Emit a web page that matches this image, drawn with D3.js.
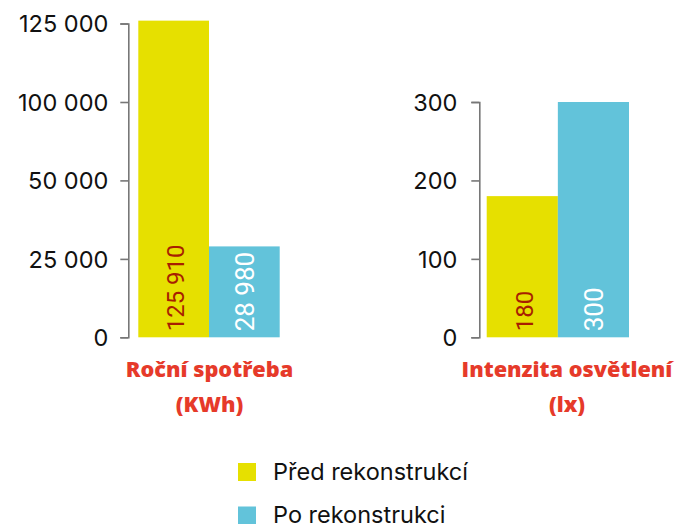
<!DOCTYPE html>
<html>
<head>
<meta charset="utf-8">
<script src="https://cdn.jsdelivr.net/npm/d3@7"></script>
<style>
  body { margin: 0; background: #fff; }
  svg { display: block; }
</style>
</head>
<body>
<svg id="chart"></svg>
<script>
// data
const series = ["Před rekonstrukcí", "Po rekonstrukci"];
const colors = ["#e6e000", "#62c3da"];
const textColors = ["#a81e00", "#ffffff"];

const energyTitle = ["Roční spotřeba", "(KWh)"];
const energyValues = [125910, 28980];
const energyTicks = [0, 25000, 50000, 100000, 125000];

const lightTitle = ["Intenzita osvětlení", "(lx)"];
const lightValues = [180, 300];
const lightTicks = [0, 100, 200, 300];

const width = 676, height = 524;
const svg = d3.select("#chart").attr("width", width).attr("height", height);

const fmt = v => d3.format(",")(v).replace(/,/g, " ");

function drawPanel(opt) {
  const g = svg.append("g");

  const x = d3.scaleBand().domain(series).range(opt.xRange).padding(0);
  const y = opt.y;

  // axis
  const axis = d3.axisLeft(y)
    .tickValues(opt.ticks)
    .tickFormat(fmt)
    .tickSizeOuter(0)
    .tickSize(8)
    .tickPadding(opt.pad);

  const ax = g.append("g")
    .attr("transform", `translate(${opt.axisX},0)`)
    .call(axis);
  ax.select(".domain").attr("stroke", "#777").attr("stroke-width", 1.6);
  ax.selectAll(".tick line").attr("stroke", "#777").attr("stroke-width", 1.6);
  ax.selectAll(".tick text")
    .attr("fill", "#111")
    .style("font-family", "Inter, 'Noto Sans', sans-serif")
    .style("font-size", "23.5px")
    .attr("dy", "0.36em");

  // bars
  g.selectAll("rect.bar")
    .data(opt.values)
    .join("rect")
    .attr("class", "bar")
    .attr("x", (d, i) => x(series[i]))
    .attr("width", x.bandwidth())
    .attr("y", d => y(d))
    .attr("height", d => y(0) - y(d))
    .attr("fill", (d, i) => colors[i]);

  // value labels (rotated)
  g.selectAll("text.val")
    .data(opt.values)
    .join("text")
    .attr("class", "val")
    .attr("transform", (d, i) => `translate(${x(series[i]) + x.bandwidth() / 2 + (i == 0 ? 10.5 : 10)},${y(0) - 6}) rotate(-90)`)
    .attr("fill", (d, i) => textColors[i])
    .style("font-family", "Roboto, sans-serif")
    .style("font-size", (d, i) => i == 0 ? "24px" : "26px")
    .text(d => fmt(d));

  // category title
  g.selectAll("text.cat")
    .data(opt.title)
    .join("text")
    .attr("class", "cat")
    .attr("x", opt.titleX)
    .attr("y", (d, i) => 377 + i * 35)
    .attr("text-anchor", "middle")
    .attr("fill", "#e63a2a")
    .style("font-family", "'Open Sans', sans-serif")
    .style("font-weight", "800")
    .style("font-size", "21.7px")
    .text(d => d);
}

drawPanel({
  values: energyValues,
  ticks: energyTicks,
  title: energyTitle,
  y: d3.scaleLinear().domain(energyTicks).range([337.3, 258.9, 180.4, 102, 23.5]),
  xRange: [138.3, 279.7],
  axisX: 128.3,
  pad: 12,
  titleX: 209.5
});

drawPanel({
  values: lightValues,
  ticks: lightTicks,
  title: lightTitle,
  y: d3.scaleLinear().domain([0, 300]).range([337.3, 102]),
  xRange: [486.7, 629],
  axisX: 479.3,
  pad: 14,
  titleX: 567
});

// legend
const legend = svg.append("g").attr("transform", "translate(238,463)");
const items = legend.selectAll("g")
  .data(series)
  .join("g")
  .attr("transform", (d, i) => `translate(0,${i * 43.5})`);
items.append("rect")
  .attr("width", 18).attr("height", 18)
  .attr("fill", (d, i) => colors[i]);
items.append("text")
  .attr("x", 35).attr("y", 16.5)
  .attr("fill", "#111")
  .style("font-family", "Inter, 'Noto Sans', sans-serif")
  .style("font-size", "23.5px")
  .text(d => d);
</script>
</body>
</html>
